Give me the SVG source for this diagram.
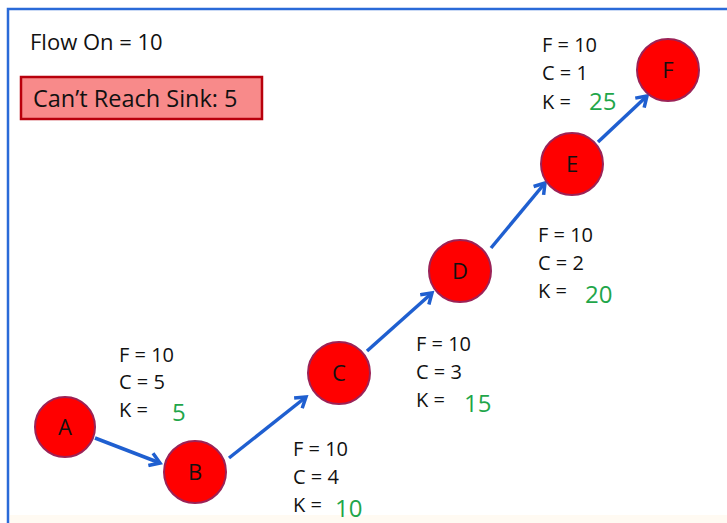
<svg xmlns="http://www.w3.org/2000/svg" width="727" height="523" viewBox="0 0 727 523">
<defs>
<style>
.t{font-family:"Open Sans","Liberation Sans",sans-serif;font-size:20px;fill:#111}
.g{font-family:"Open Sans","Liberation Sans",sans-serif;font-size:24px;fill:#1fa64a}
.n circle{fill:#ff0000;stroke:#9c2256;stroke-width:2}
.n text{font-family:"Open Sans","Liberation Sans",sans-serif;font-size:22px;fill:#111;text-anchor:middle}
.e{stroke:#1f5fd0;stroke-width:3.5;fill:none;marker-end:url(#ah)}
</style>
<marker id="ah" viewBox="0 0 16 16" refX="13" refY="8" markerWidth="16" markerHeight="16" markerUnits="userSpaceOnUse" orient="auto">
<path d="M3,1.5 L13,8 L3,14.5" fill="none" stroke="#1f5fd0" stroke-width="3.5" stroke-linejoin="miter"/>
</marker>
</defs>
<rect width="727" height="523" fill="#ffffff"/>
<rect x="10" y="515" width="717" height="8" fill="#fffaf2"/>
<path d="M8,523 L8,9 L727,9" fill="none" stroke="#2a6ad8" stroke-width="2.5"/>
<text class="t" x="30" y="50" style="font-size:22px">Flow On = 10</text>
<g id="sink">
<rect x="21" y="77" width="241" height="42" fill="#f88a8a" stroke="#b8000c" stroke-width="2.5"/>
<text class="t" x="33" y="107" style="font-size:23.5px">Can’t Reach Sink: 5</text>
</g>
<g id="edges">
<line class="e" x1="95" y1="438" x2="160" y2="463"/>
<line class="e" x1="229" y1="458" x2="306" y2="397"/>
<line class="e" x1="367" y1="351" x2="432" y2="293"/>
<line class="e" x1="491" y1="248" x2="545" y2="183"/>
<line class="e" x1="598" y1="142" x2="647" y2="96"/>
</g>
<g id="A" class="n"><circle cx="65" cy="427" r="30"/><text x="65" y="435">A</text></g>
<g id="B" class="n"><circle cx="195" cy="472" r="31"/><text x="195" y="480">B</text></g>
<g id="C" class="n"><circle cx="339" cy="373" r="31"/><text x="339" y="381">C</text></g>
<g id="D" class="n"><circle cx="460" cy="271" r="31"/><text x="460" y="279">D</text></g>
<g id="E" class="n"><circle cx="572" cy="164" r="31"/><text x="572" y="172">E</text></g>
<g id="F" class="n"><circle cx="668" cy="70" r="31"/><text x="668" y="78">F</text></g>
<g id="lab-AB">
<text class="t" x="119" y="362">F = 10</text>
<text class="t" x="119" y="389">C = 5</text>
<text class="t" x="119" y="417">K =</text>
<text class="g" x="172" y="421">5</text>
</g>
<g id="lab-BC">
<text class="t" x="293" y="456">F = 10</text>
<text class="t" x="293" y="484">C = 4</text>
<text class="t" x="293" y="512">K =</text>
<text class="g" x="335" y="517">10</text>
</g>
<g id="lab-CD">
<text class="t" x="416" y="351">F = 10</text>
<text class="t" x="416" y="379">C = 3</text>
<text class="t" x="416" y="407">K =</text>
<text class="g" x="464" y="412">15</text>
</g>
<g id="lab-DE">
<text class="t" x="538" y="242">F = 10</text>
<text class="t" x="538" y="270">C = 2</text>
<text class="t" x="538" y="298">K =</text>
<text class="g" x="585" y="303">20</text>
</g>
<g id="lab-EF">
<text class="t" x="542" y="52">F = 10</text>
<text class="t" x="542" y="80">C = 1</text>
<text class="t" x="542" y="109">K =</text>
<text class="g" x="589" y="110">25</text>
</g>
</svg>
